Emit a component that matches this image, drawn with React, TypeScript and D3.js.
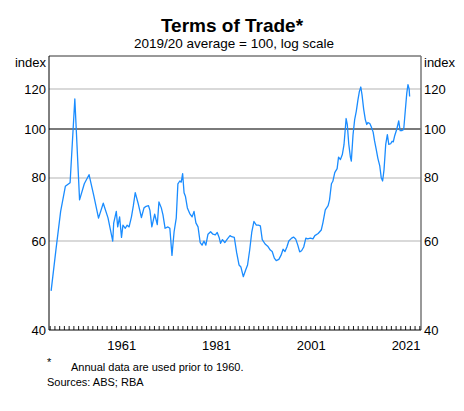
import React from "react";
import * as d3 from "d3";

// Annual data (prior to 1960): [year, index]
const annualYears = [1946.2, 1947.2, 1948.2, 1949.2, 1950.2, 1951.2, 1952.2, 1953.2, 1954.2, 1955.2, 1956.2, 1957.2, 1958.2, 1959.2];
const annualValues = [47.8, 57.5, 68.6, 77, 78.3, 114.7, 72.4, 77.9, 81.2, 73.8, 66.6, 71.3, 66.7, 60.0];

// Quarterly data
const quarterly: [number, number][] = [
  [1959.4, 65.1], [1959.95, 68.7], [1960.25, 64], [1960.65, 67], [1961.05, 61], [1961.35, 64.5],
  [1961.85, 63.6], [1962.25, 64.5], [1962.65, 64], [1963.15, 67], [1963.55, 70.5], [1963.95, 74.8],
  [1964.55, 71.3], [1965.25, 66.8], [1965.8, 69.8], [1966.25, 70.3], [1966.75, 70.5], [1967.05, 69],
  [1967.45, 64.0], [1968.05, 67.8], [1968.6, 64.7], [1968.95, 71.7], [1969.45, 69.8], [1969.8, 67.6],
  [1970.25, 63.6], [1970.85, 64], [1971.25, 63.6], [1971.7, 56.2], [1972.15, 62.6], [1972.6, 66.6],
  [1972.95, 77.9], [1973.35, 78.9], [1973.65, 78.5], [1973.95, 81.6], [1974.25, 74.8], [1974.55, 73.5],
  [1974.95, 69.8], [1975.45, 68], [1975.95, 67], [1976.35, 68.7], [1976.75, 65.2], [1977.2, 64],
  [1977.65, 59.6], [1978.05, 58.9], [1978.45, 60], [1978.85, 58.9], [1979.3, 61.9], [1979.85, 62.6],
  [1980.35, 61.9], [1980.85, 61.7], [1981.25, 62.4], [1981.65, 61], [1981.95, 59.4], [1982.35, 60.4],
  [1982.85, 59.6], [1983.4, 60.6], [1983.95, 61.5], [1984.3, 61.2], [1984.85, 61], [1985.35, 56.9],
  [1985.85, 53.8], [1986.25, 53.3], [1986.75, 51.0], [1987.25, 52.6], [1987.65, 53.8], [1988.1, 57.6],
  [1988.55, 62.6], [1989.0, 65.6], [1989.5, 64.5], [1989.95, 64.5], [1990.35, 64.3], [1990.75, 60.4],
  [1991.35, 59.2], [1991.9, 58.6], [1992.45, 57.6], [1992.85, 57.2], [1993.3, 55.5], [1993.7, 54.9],
  [1994.25, 55.2], [1994.7, 56.2], [1995.15, 57.8], [1995.55, 57.2], [1995.95, 58.4], [1996.35, 60],
  [1996.95, 60.8], [1997.35, 61.1], [1997.8, 60.6], [1998.25, 58.9], [1998.65, 57.1], [1999.05, 57.4],
  [1999.5, 58.4], [1999.95, 60.8], [2000.35, 60.6], [2000.9, 60.8], [2001.45, 60.6], [2001.85, 61.5],
  [2002.55, 62.1], [2003.2, 63.1], [2003.55, 65.2], [2004.05, 69.2], [2004.65, 70.5], [2004.95, 72.4],
  [2005.35, 77.9], [2005.65, 78.8], [2006.05, 82], [2006.55, 83.5], [2006.85, 88.0], [2007.25, 87],
  [2007.65, 89], [2008.0, 93.1], [2008.45, 104.9], [2008.7, 102], [2009.0, 93.5], [2009.35, 88],
  [2009.55, 86.4], [2009.9, 97.2], [2010.25, 104.4], [2010.6, 108.5], [2010.95, 114.3], [2011.25, 118.7],
  [2011.55, 121.1], [2011.8, 117], [2012.15, 109.5], [2012.5, 104.4], [2012.8, 102.1], [2013.05, 103],
  [2013.45, 102.5], [2013.75, 101], [2014.15, 98.6], [2014.45, 94.7], [2014.8, 91.1], [2015.15, 87.5],
  [2015.55, 84.5], [2015.85, 80.2], [2016.15, 78.9], [2016.45, 83.1], [2016.8, 93.1], [2017.15, 97.5],
  [2017.45, 93.2], [2017.85, 93.5], [2018.15, 94.6], [2018.4, 94.3], [2018.7, 97], [2019.15, 100],
  [2019.55, 103.8], [2019.85, 99.3], [2020.25, 99.3], [2020.6, 99.8], [2020.95, 109.2], [2021.25, 117.8],
  [2021.5, 122.4], [2021.75, 120], [2021.85, 116.0],
];

const yTicks = [40, 60, 80, 100, 120];
const xLabels = [1961, 1981, 2001, 2021];

const W = 464;
const H = 411;
const M = { left: 49, right: 421, top: 56, bottom: 330 };
const FONT = "'Liberation Sans', Arial, Helvetica, sans-serif";

export default function App() {
  const x = d3.scaleLinear().domain([1945.75, 2024.25]).range([M.left, M.right]);
  const y = d3.scaleLog().domain([40, 139.5]).range([M.bottom, M.top]);

  const data: [number, number][] = [
    ...annualYears.map((yr, i) => [yr, annualValues[i]] as [number, number]),
    ...quarterly,
  ];
  const line = d3
    .line<[number, number]>()
    .x((d) => x(d[0]))
    .y((d) => y(d[1]));

  const yearTicks = d3.range(1946, 2025);

  return (
    <svg
      width={W}
      height={H}
      style={{ position: "absolute", left: 0, top: 0, background: "#fff" }}
      fontFamily={FONT}
    >
      <rect x={0} y={0} width={W} height={H} fill="#fff" />
      <text x={232} y={32} textAnchor="middle" fontSize={19} fontWeight="bold" fill="#000">
        Terms of Trade*
      </text>
      <text x={234} y={48} textAnchor="middle" fontSize={13.5} fill="#000">
        2019/20 average = 100, log scale
      </text>

      {/* gridlines */}
      {yTicks
        .filter((t) => t !== 40)
        .map((t) => (
          <line
            key={t}
            x1={M.left}
            x2={M.right}
            y1={y(t)}
            y2={y(t)}
            stroke={t === 100 ? "#7a7a7a" : "#cccccc"}
            strokeWidth={t === 100 ? 2 : 1.5}
          />
        ))}

      {/* data line */}
      <path d={line(data) || ""} fill="none" stroke="#1a8cff" strokeWidth={1.3} strokeLinejoin="round" />

      {/* frame */}
      <line x1={M.left} x2={M.right} y1={M.top} y2={M.top} stroke="#333" strokeWidth={1} />
      <line x1={M.left} x2={M.left} y1={M.top} y2={M.bottom} stroke="#000" strokeWidth={1} />
      <line x1={M.right} x2={M.right} y1={M.top} y2={M.bottom} stroke="#777" strokeWidth={1.5} />
      <line x1={M.left} x2={M.right} y1={M.bottom} y2={M.bottom} stroke="#000" strokeWidth={1} />

      {/* year ticks */}
      {yearTicks.map((t) => (
        <line key={t} x1={x(t)} x2={x(t)} y1={M.bottom} y2={M.bottom - 4} stroke="#000" strokeWidth={0.9} />
      ))}

      {/* y labels */}
      <text x={46} y={67} textAnchor="end" fontSize={13} fill="#000">index</text>
      <text x={424} y={67} textAnchor="start" fontSize={13} fill="#000">index</text>
      {yTicks.map((t) => (
        <g key={t}>
          <text x={46} y={y(t) + 4.5} textAnchor="end" fontSize={13} fill="#000">{t}</text>
          <text x={424} y={y(t) + 4.5} textAnchor="start" fontSize={13} fill="#000">{t}</text>
        </g>
      ))}

      {/* x labels */}
      {xLabels.map((t) => (
        <text key={t} x={x(t) + 0.5} y={350} textAnchor="middle" fontSize={13} fill="#000">{t}</text>
      ))}

      {/* footnotes */}
      <text x={47} y={366} fontSize={11} fill="#000">*</text>
      <text x={71} y={371} fontSize={11} fill="#000">Annual data are used prior to 1960.</text>
      <text x={47} y={386} fontSize={11} fill="#000">Sources: ABS; RBA</text>
    </svg>
  );
}
